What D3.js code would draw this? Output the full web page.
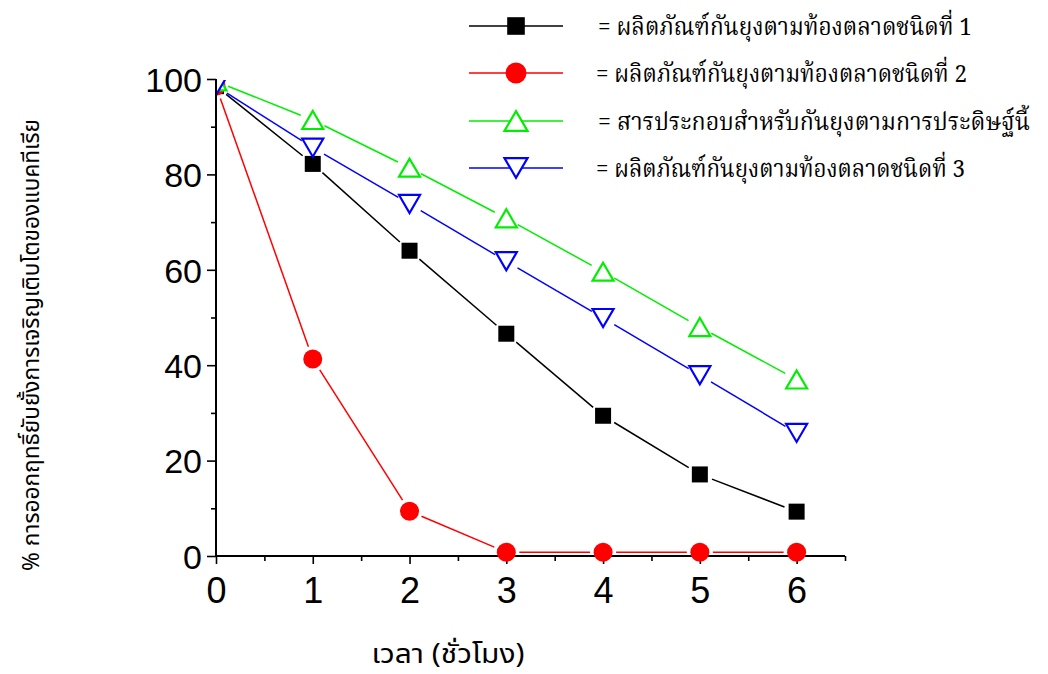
<!DOCTYPE html>
<html><head><meta charset="utf-8">
<script src="https://cdn.jsdelivr.net/npm/d3@7"></script>
<style>
body{margin:0;background:#fff;}
svg{display:block;}
</style></head>
<body>
<svg id="chart" width="1048" height="674"></svg>
<script>
const hours = [0, 1, 2, 3, 4, 5, 6];
const market1 = [98.5, 82.2, 64.0, 46.6, 29.4, 17.1, 9.3];
const market2 = [98.5, 41.3, 9.4, 0.8, 0.8, 0.8, 0.8];
const formula = [99.5, 91.4, 81.4, 70.8, 59.6, 48.0, 37.0];
const market3 = [98.5, 85.6, 73.8, 61.8, 49.9, 37.9, 25.8];
const xTicks = [0, 1, 2, 3, 4, 5, 6];
const yTicks = [0, 20, 40, 60, 80, 100];
const legendLabels = [
  "= ผลิตภัณฑ์กันยุงตามท้องตลาดชนิดที่ 1",
  "= ผลิตภัณฑ์กันยุงตามท้องตลาดชนิดที่ 2",
  "=  สารประกอบสำหรับกันยุงตามการประดิษฐ์นี้",
  "= ผลิตภัณฑ์กันยุงตามท้องตลาดชนิดที่ 3"
];
const xLabel = "เวลา (ชั่วโมง)";
const yLabel = "% การออกฤทธิ์ยับยั้งการเจริญเติบโตของแบคทีเรีย";

const series = [
  {values: market1, color: "#000000", shape: "square"},
  {values: market2, color: "#ff0000", shape: "circle"},
  {values: formula, color: "#00ee00", shape: "up"},
  {values: market3, color: "#0000ff", shape: "down"}
];

const svg = d3.select("#chart");
const x = d3.scaleLinear().domain([0, 6.5]).range([216, 845]);
const y = d3.scaleLinear().domain([0, 100]).range([556, 79]);
const thaiSans = "'Noto Sans Thai','Noto Sans Thai UI','Loma','Garuda','Tahoma',sans-serif";
const thaiSerif = "'Noto Serif Thai','Norasi','Kinnari','Laksaman','Tlwg Typo','Noto Sans Thai',serif";
const numFont = "'Liberation Sans',Arial,sans-serif";

function marker(g, shape, color, cx, cy, s) {
  if (shape === "square") {
    g.append("rect").attr("x", cx - 8*s).attr("y", cy - 8*s).attr("width", 16*s).attr("height", 16*s).attr("fill", color);
  } else if (shape === "circle") {
    g.append("circle").attr("cx", cx).attr("cy", cy).attr("r", 9.5*s).attr("fill", color);
  } else if (shape === "up") {
    const w = 10.5*s, h = 9*s;
    g.append("path").attr("d", `M${cx},${cy-h}L${cx+w},${cy+h}L${cx-w},${cy+h}Z`)
      .attr("fill", "#fff").attr("stroke", color).attr("stroke-width", 2.2);
  } else {
    const w = 10.5*s, h = 9*s;
    g.append("path").attr("d", `M${cx-w},${cy-h}L${cx+w},${cy-h}L${cx},${cy+h}Z`)
      .attr("fill", "#fff").attr("stroke", color).attr("stroke-width", 2.2);
  }
}

// clip
svg.append("defs").append("clipPath").attr("id", "plotclip")
  .append("rect").attr("x", x(0) + 1).attr("y", y(100) + 1).attr("width", x(6.5) - x(0) + 20).attr("height", y(0) - y(100) + 20);

// axes
const xAxis = d3.axisBottom(x).tickValues(xTicks).tickSize(8).tickFormat(d3.format("d"));
const xMinor = d3.axisBottom(x).tickValues([0.5,1.5,2.5,3.5,4.5,5.5,6.5]).tickSize(5).tickFormat("");
const yAxis = d3.axisLeft(y).tickValues(yTicks).tickSize(9).tickFormat(d3.format("d"));
const yMinor = d3.axisLeft(y).tickValues([10,30,50,70,90]).tickSize(5).tickFormat("");

function styleAxis(g) {
  g.select(".domain").remove();
  g.selectAll("line").attr("stroke", "#000").attr("stroke-width", 1.6);
  g.selectAll("text").attr("font-family", numFont).attr("font-size", 34).attr("fill", "#000");
}
const gx = svg.append("g").attr("transform", `translate(0,${y(0)})`).call(xAxis).call(styleAxis);
gx.selectAll("text").attr("font-size", 36).attr("y", 47).attr("dy", null);
svg.append("g").attr("transform", `translate(0,${y(0)})`).call(xMinor).call(styleAxis);
const gy = svg.append("g").attr("transform", `translate(${x(0)},0)`).call(yAxis).call(styleAxis);
gy.selectAll("text").attr("x", -14).attr("dy", "0.36em");
svg.append("g").attr("transform", `translate(${x(0)},0)`).call(yMinor).call(styleAxis);

svg.append("line").attr("x1", x(0)).attr("x2", x(6.5)).attr("y1", y(0)).attr("y2", y(0)).attr("stroke", "#000").attr("stroke-width", 2);
svg.append("line").attr("x1", x(0)).attr("x2", x(0)).attr("y1", y(0)).attr("y2", y(100)).attr("stroke", "#000").attr("stroke-width", 2);

// series
const plot = svg.append("g");
const gap = 13;
series.forEach(s => {
  const pts = hours.map((h, i) => [x(h), y(s.values[i])]);
  const lg = plot.append("g");
  for (let i = 0; i < pts.length - 1; i++) {
    const [x1, y1] = pts[i], [x2, y2] = pts[i+1];
    const dx = x2 - x1, dy = y2 - y1, L = Math.hypot(dx, dy);
    if (L <= 2*gap) continue;
    const ux = dx / L, uy = dy / L;
    lg.append("line")
      .attr("x1", x1 + ux*gap).attr("y1", y1 + uy*gap)
      .attr("x2", x2 - ux*gap).attr("y2", y2 - uy*gap)
      .attr("stroke", s.color).attr("stroke-width", 1.5);
  }
});
series.forEach(s => {
  const mg = plot.append("g").attr("clip-path", "url(#plotclip)");
  hours.forEach((h, i) => marker(mg, s.shape, s.color, x(h), y(s.values[i]), 1));
});

// legend
const legY = [26, 73, 121, 168];
const legEnds = [972, 967, 1030, 965];
const legStarts = [598, 596, 598, 596];
series.forEach((s, i) => {
  const g = svg.append("g");
  g.append("line").attr("x1", 469).attr("x2", 563).attr("y1", legY[i]).attr("y2", legY[i]).attr("stroke", s.color).attr("stroke-width", 1.5);
  marker(g, s.shape, s.color, 516, legY[i], 1.1);
  g.append("text").attr("x", legStarts[i]).attr("y", legY[i] + 9)
    .attr("font-family", thaiSerif).attr("font-size", 24).attr("fill", "#000")
    .attr("textLength", legEnds[i] - legStarts[i]).attr("lengthAdjust", "spacingAndGlyphs")
    .text(legendLabels[i]);
});

// axis titles
svg.append("text").attr("x", 448).attr("y", 663).attr("text-anchor", "middle")
  .attr("font-family", thaiSans).attr("font-size", 27).attr("fill", "#000")
  .attr("textLength", 153).attr("lengthAdjust", "spacingAndGlyphs").text(xLabel);
svg.append("text").attr("transform", "translate(39,345) rotate(-90)").attr("text-anchor", "middle")
  .attr("font-family", thaiSans).attr("font-size", 23).attr("fill", "#000")
  .attr("textLength", 452).attr("lengthAdjust", "spacingAndGlyphs").text(yLabel);
</script>
</body></html>
